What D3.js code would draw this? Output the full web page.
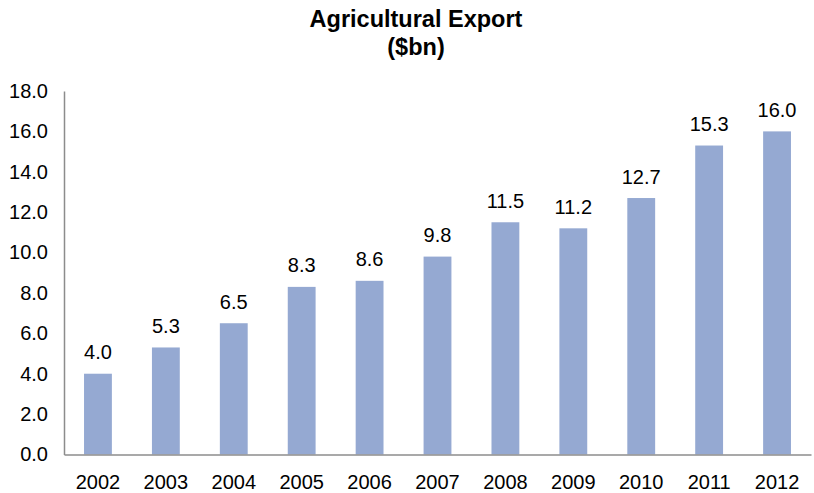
<!DOCTYPE html>
<html>
<head>
<meta charset="utf-8">
<script src="https://cdn.jsdelivr.net/npm/d3@7"></script>
<style>
  html, body { margin: 0; padding: 0; background: #fff; }
  svg { display: block; font-family: "Liberation Sans", Arial, sans-serif; }
</style>
</head>
<body>
<svg id="chart" width="814" height="493"></svg>
<script>
// Agricultural export value by year, in $bn
const years = ["2002", "2003", "2004", "2005", "2006", "2007", "2008", "2009", "2010", "2011", "2012"];
const exportValues = [4.0, 5.3, 6.5, 8.3, 8.6, 9.8, 11.5, 11.2, 12.7, 15.3, 16.0];
const yTicks = [0, 2, 4, 6, 8, 10, 12, 14, 16, 18];
const titleLines = ["Agricultural Export", "($bn)"];

const svg = d3.select("#chart");
const plotLeft = 64, plotRight = 811, plotBottom = 454.5, plotTop = 91;
const labelSize = 20;

const x = d3.scaleBand()
  .domain(years)
  .range([plotLeft, plotRight])
  .paddingInner(0.59)
  .paddingOuter(0.295);

const y = d3.scaleLinear()
  .domain([0, 18])
  .range([plotBottom, plotTop]);

// Title
svg.append("g")
  .selectAll("text")
  .data(titleLines)
  .join("text")
  .attr("x", 416)
  .attr("y", (d, i) => 27 + i * 28)
  .attr("text-anchor", "middle")
  .attr("font-weight", "bold")
  .attr("font-size", 23.5)
  .attr("fill", "#000")
  .text(d => d);

// Bars
svg.append("g")
  .selectAll("rect")
  .data(exportValues)
  .join("rect")
  .attr("x", (d, i) => x(years[i]))
  .attr("width", x.bandwidth())
  .attr("y", d => y(d))
  .attr("height", d => y(0) - y(d))
  .attr("fill", "#95a9d2");

// Value labels
svg.append("g")
  .selectAll("text")
  .data(exportValues)
  .join("text")
  .attr("x", (d, i) => x(years[i]) + x.bandwidth() / 2)
  .attr("y", d => y(d) - 14.5)
  .attr("text-anchor", "middle")
  .attr("font-size", labelSize)
  .attr("fill", "#000")
  .text(d => d3.format(".1f")(d));

// Y axis
const yAxis = svg.append("g")
  .attr("transform", `translate(${plotLeft},0)`)
  .call(d3.axisLeft(y).tickValues(yTicks).tickFormat(d3.format(".1f")).tickSize(0).tickPadding(16));
yAxis.select(".domain").attr("stroke", "#8c8c8c").attr("stroke-width", 1.5);
yAxis.selectAll("text").attr("font-size", labelSize).attr("fill", "#000");
yAxis.attr("font-family", null);

// X axis
const xAxis = svg.append("g")
  .attr("transform", `translate(0,${plotBottom})`)
  .call(d3.axisBottom(x).tickSize(0).tickPadding(20));
xAxis.select(".domain").attr("stroke", "#8c8c8c").attr("stroke-width", 1.5);
xAxis.selectAll("text").attr("font-size", labelSize).attr("fill", "#000");
xAxis.attr("font-family", null);
</script>
</body>
</html>
